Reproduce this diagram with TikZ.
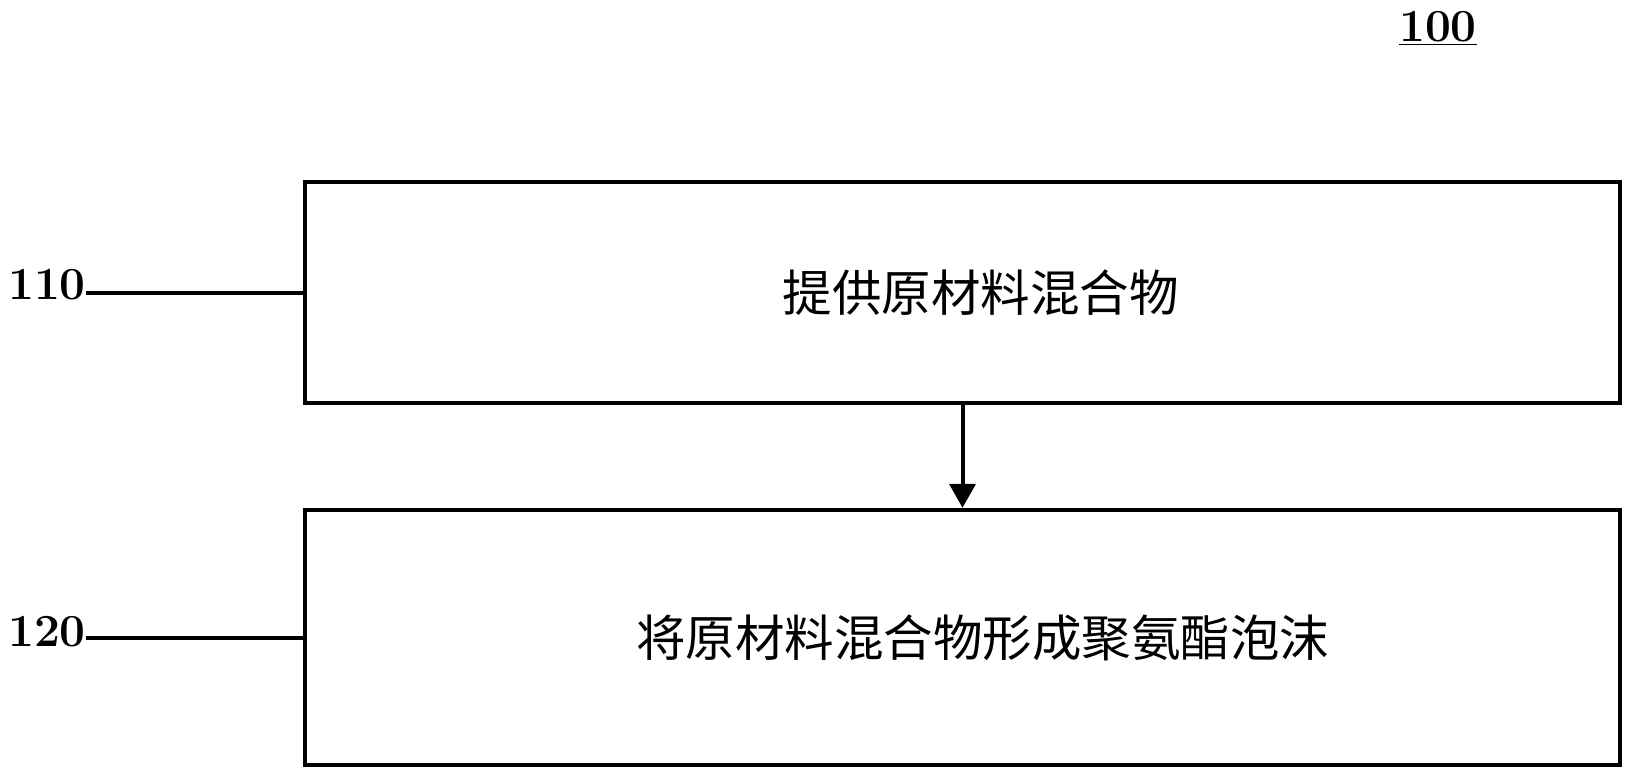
\documentclass[tikz,border=0pt]{standalone}
\usepackage{fontspec}
\newfontfamily\cjk{Noto Sans CJK SC}
\usetikzlibrary{arrows.meta}
\tikzset{
  stepbox/.style={draw=black, line width=4.5pt, minimum width=1315pt, inner sep=0pt, font=\cjk\fontsize{49.5}{52}\selectfont},
  reflabel/.style={inner sep=0pt, font=\bfseries\fontsize{46}{50}\selectfont},
  leader/.style={draw=black, line width=4pt},
  flow/.style={draw=black, line width=4pt, -{Triangle[width=26pt,length=24pt]}}
}
\begin{document}
\begin{tikzpicture}[x=1pt,y=-1pt]
\useasboundingbox (0,0) rectangle (1631,779);
\node[stepbox, minimum height=221pt] (box1) at (962.5,292.5) {\hspace*{36pt}提供原材料混合物};
\node[stepbox, minimum height=255pt] (box2) at (962.5,637.5) {\hspace*{40pt}将原材料混合物形成聚氨酯泡沫};
\node[reflabel, anchor=east] (l110) at (86,285) {110};
\node[reflabel, anchor=east] (l120) at (86,632) {120};
\node[reflabel] (l100) at (1438,28) {\underline{100}};
\draw[leader] (l110.east |- box1.west) -- (box1.west);
\draw[leader] (l120.east |- box2.west) -- (box2.west);
\draw[flow] (box1.south) -- (box2.north);
\end{tikzpicture}
\end{document}
